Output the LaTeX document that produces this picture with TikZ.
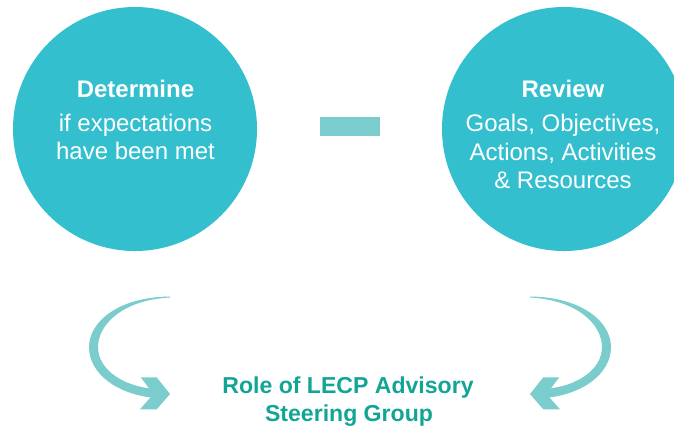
\documentclass[tikz,border=0pt]{standalone}
\usepackage{fontspec}
\setmainfont{Liberation Sans}
\definecolor{circ}{HTML}{33BFCE}
\definecolor{light}{HTML}{7BCDCD}
\definecolor{role}{HTML}{12A595}
\begin{document}
\begin{tikzpicture}[x=0.75pt,y=-0.75pt,
  bubble/.style={circle,fill=circ,minimum size=183pt,inner sep=0pt},
  intitle/.style={anchor=base,text=white,font=\fontsize{18}{20}\selectfont\bfseries},
  inline/.style={anchor=base,text=white,font=\fontsize{18}{20}\selectfont},
  roletext/.style={anchor=base,text=role,font=\fontsize{17.3}{20}\selectfont\bfseries}]
\useasboundingbox (0,0) rectangle (674,430);
\clip (0,0) rectangle (674,430);
% circles
\node[bubble] (lcirc) at (135,129) {};
\node[bubble] (rcirc) at (564,129) {};
% bar
\node[fill=light,minimum width=45pt,minimum height=14.25pt,inner sep=0pt] (bar) at (350,126.2) {};
% left texts
\node[intitle] (l1) at (135.5,97) {Determine};
\node[inline] (l2) at (135.5,131.5) {if expectations};
\node[inline] (l3) at (135.5,159.5) {have been met};
% right texts
\node[intitle] (r1) at (563,97) {Review};
\node[inline] (r2) at (563,131.5) {Goals, Objectives,};
\node[inline] (r3) at (563,160) {Actions, Activities};
\node[inline] (r4) at (563,188.5) {\& Resources};
% bottom text
\node[roletext] (b1) at (348,393) {Role of LECP Advisory};
\node[roletext] (b2) at (349,421.5) {Steering Group};
% curved arrows (left, and its mirror on the right)
\foreach \sc/\off in {1/0,-1/700}{
\begin{scope}[shift={(\off,0)},xscale=\sc]
\fill[light] (170,296.5) .. controls (118,297) and (89,322) .. (89,347)
  .. controls (89,374) and (118,395) .. (156,398)
  -- (156,389) .. controls (124,387) and (98,370) .. (98,347)
  .. controls (98,325) and (122,300) .. (170,297.5) -- cycle;
\fill[light] (140.7,377.3) -- (156.7,377.3) -- (170,394) -- (156.7,409.3)
  -- (140,409.3) -- (153.5,394) -- cycle;
\end{scope}
}
\end{tikzpicture}
\end{document}
